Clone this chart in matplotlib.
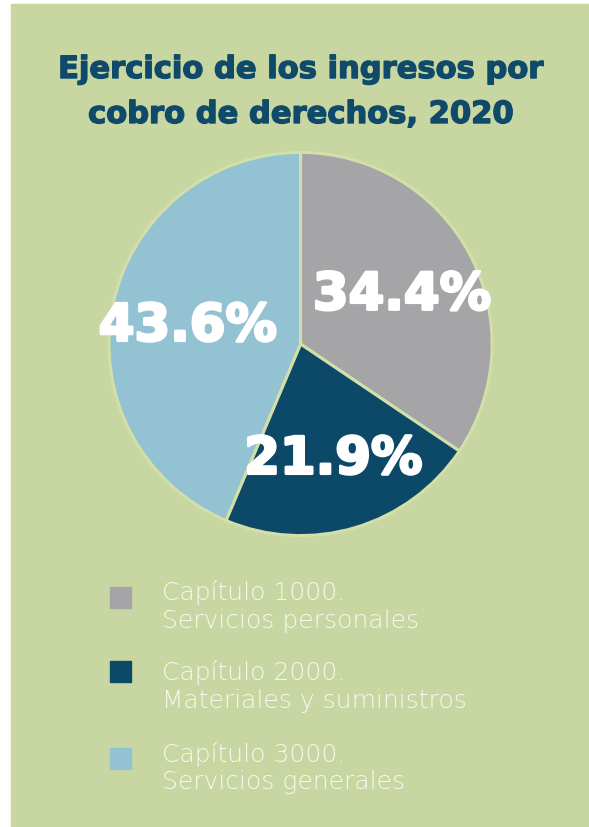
import matplotlib

matplotlib.use("Agg")
import matplotlib.pyplot as plt
import matplotlib.patheffects as pe
import numpy as np
from matplotlib.patches import Rectangle

# data
categories = ["Capítulo 1000.\nServicios personales",
              "Capítulo 2000.\nMateriales y suministros",
              "Capítulo 3000.\nServicios generales"]
shares = [34.4, 21.9, 43.6]
pct_labels = ["34.4%", "21.9%", "43.6%"]
title_lines = ["Ejercicio de los ingresos por", "cobro de derechos, 2020"]

BG = "#c8d6a1"
COLOURS = ["#a5a5a7", "#0c4868", "#93c2d3"]
TITLE_C = "#0f4a6a"
TXT = "#f6f8f0"

W, H = 589, 828
fig = plt.figure(figsize=(W / 100, H / 100), dpi=100, facecolor="white")

# green panel (white strip on the left and top)
fig.patches.append(Rectangle((11 / W, -0.01), 1.02 - 11 / W, (H - 5) / H + 0.01,
                             transform=fig.transFigure, color=BG, zorder=-5))

# ── title ──────────────────────────────────────────────────────────────
for line, base in zip(title_lines, [79, 124]):
    fig.text(300 / W, 1 - base / H, line, ha="center", va="baseline",
             fontsize=22, fontweight="heavy", color=TITLE_C,
             family="DejaVu Sans",
             path_effects=[pe.withStroke(linewidth=1.0, foreground=TITLE_C)])

# ── pie ────────────────────────────────────────────────────────────────
cx, cy, r = 300.5, 345, 193.5
ax = fig.add_axes([(cx - r) / W, 1 - (cy + r) / H, 2 * r / W, 2 * r / H])
ax.set_zorder(1)
wedges, _ = ax.pie(shares, colors=COLOURS, startangle=90, counterclock=False,
                   radius=1, wedgeprops=dict(edgecolor="#d3dfa9", linewidth=2.2))
ax.set_xlim(-1.01, 1.01)
ax.set_ylim(-1.01, 1.01)
ax.set_aspect("equal")
ax.axis("off")

for w, lab in zip(wedges, pct_labels):
    mid = np.deg2rad((w.theta1 + w.theta2) / 2)
    d = 0.6
    ax.text(d * np.cos(mid), d * np.sin(mid), lab, ha="center",
            va="center_baseline", fontsize=37, fontweight="bold",
            color="white", family="DejaVu Sans",
            path_effects=[pe.withStroke(linewidth=2.0, foreground="white")])

# ── legend ─────────────────────────────────────────────────────────────
box_y = [598, 672, 759]
text_base = [(600, 628), (680, 708), (762, 789)]
for y, (b1, b2), c, lab in zip(box_y, text_base, COLOURS, categories):
    fig.patches.append(Rectangle((110 / W, 1 - (y + 10.5) / H), 21 / W, 21 / H,
                                 transform=fig.transFigure, color=c, zorder=2))
    for part, b in zip(lab.split("\n"), (b1, b2)):
        fig.text(162 / W, 1 - b / H, part, ha="left", va="baseline",
                 fontsize=18, fontweight="light", color=TXT,
                 family="DejaVu Sans")

fig.savefig("out.png", dpi=100, facecolor=fig.get_facecolor())
